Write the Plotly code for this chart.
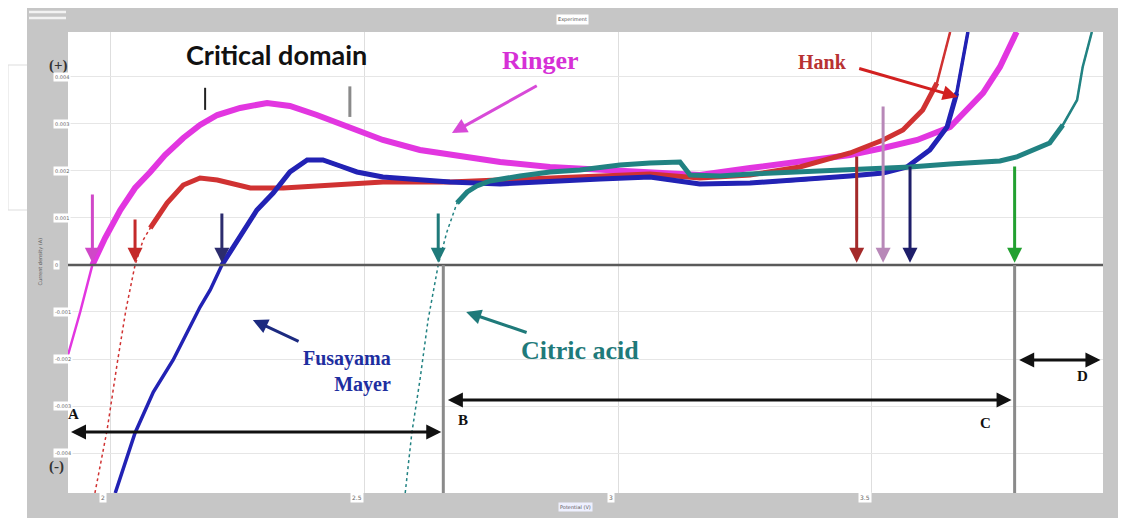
import plotly.graph_objects as go

# ---------------- data (x: potential units, y: current units, gridline = 1) -------------
ringer_x = [1.917, 1.941, 1.965, 1.990, 2.020, 2.049, 2.079, 2.108, 2.144, 2.177, 2.211, 2.256,
            2.309, 2.354, 2.407, 2.472, 2.537, 2.610, 2.669, 2.768, 2.866, 2.965, 3.063, 3.161,
            3.260, 3.358, 3.457, 3.522, 3.589, 3.654, 3.687, 3.719, 3.752, 3.785]
ringer_y = [-1.915, -1.0, 0.0, 0.574, 1.170, 1.638, 1.979, 2.340, 2.702, 2.979, 3.191, 3.340,
            3.447, 3.383, 3.191, 2.915, 2.660, 2.447, 2.340, 2.191, 2.085, 2.021, 1.957, 1.915,
            2.064, 2.191, 2.340, 2.489, 2.660, 2.936, 3.298, 3.660, 4.213, 4.957]

hank_x = [1.970, 1.994, 2.014, 2.031, 2.049, 2.065, 2.079, 2.112, 2.144, 2.177, 2.211, 2.276,
          2.341, 2.407, 2.472, 2.537, 2.669, 2.768, 2.866, 2.965, 3.063, 3.161, 3.260, 3.358,
          3.457, 3.522, 3.561, 3.600, 3.628, 3.654]
hank_y = [-4.851, -3.511, -2.085, -0.957, 0.0, 0.532, 0.787, 1.319, 1.702, 1.851, 1.809, 1.638,
          1.638, 1.681, 1.745, 1.766, 1.766, 1.809, 1.872, 1.915, 1.936, 1.851, 1.915, 2.085,
          2.383, 2.660, 2.872, 3.298, 3.872, 4.957]

fusayama_x = [2.010, 2.030, 2.049, 2.085, 2.124, 2.177, 2.197, 2.220, 2.242, 2.289, 2.321, 2.354,
              2.388, 2.419, 2.453, 2.486, 2.537, 2.669, 2.768, 2.866, 2.965, 3.063, 3.161, 3.260,
              3.358, 3.457, 3.522, 3.569, 3.614, 3.648, 3.667, 3.689]
fusayama_y = [-4.851, -4.191, -3.574, -2.702, -2.021, -0.894, -0.532, 0.0, 0.383, 1.170, 1.532,
              1.979, 2.234, 2.234, 2.106, 1.979, 1.872, 1.766, 1.723, 1.787, 1.830, 1.872, 1.723,
              1.745, 1.809, 1.894, 1.957, 2.085, 2.447, 2.936, 3.660, 4.957]

citric_x = [2.581, 2.594, 2.610, 2.626, 2.646, 2.663, 2.683, 2.703, 2.722, 2.748, 2.807, 2.866,
            2.925, 3.004, 3.063, 3.122, 3.142, 3.201, 3.260, 3.358, 3.457, 3.575, 3.654, 3.752,
            3.785, 3.850, 3.876, 3.904, 3.915, 3.933]
citric_y = [-4.851, -3.574, -2.447, -1.170, 0.0, 0.702, 1.319, 1.553, 1.681, 1.787, 1.894, 1.979,
            2.021, 2.128, 2.170, 2.191, 1.915, 1.894, 1.936, 1.979, 2.021, 2.085, 2.149, 2.213,
            2.298, 2.596, 2.979, 3.511, 4.213, 4.957]

# onset markers (x position, top of arrow)
onset_x = [1.965, 2.049, 2.220, 2.646, 3.470, 3.522, 3.575, 3.781]
onset_top = [1.532, 1.000, 1.128, 1.128, 2.340, 3.404, 2.128, 2.128]
onset_colors = ["#d048c8", "#c42a2a", "#2c2c6e", "#1f7a7a", "#a42a2a", "#b888b8", "#1e1e6a", "#22a030"]

boundary_x = [2.656, 3.781]               # B and C boundary lines
crit_x = [2.187, 2.472]                    # critical domain marks

x_ticks = [2.0, 2.5, 3.0, 3.5]
x_tick_text = ["2", "2.5", "3", "3.5"]
y_ticks = [4, 3, 2, 1, 0, -1, -2, -3, -4]
y_tick_text = ["0.004", "0.003", "0.002", "0.001", "0", "-0.001", "-0.002", "-0.003", "-0.004"]

# ---------------- figure ----------------
OFF = 8  # page body margin
W, H = 1135 - OFF, 518 - OFF
L, T = 68 - OFF, 32 - OFF
R = W - (1103 - OFF)
B = H - (493 - OFF)
pw, ph = W - L - R, H - T - B
def px(xp):  # paper x from reference pixel
    return (xp - OFF - L) / pw
def py(yp):  # paper y from reference pixel
    return (H - B - (yp - OFF)) / ph

fig = go.Figure()

def seg(xs, ys, lo, hi):
    sx, sy = [], []
    for a, b in zip(xs, ys):
        if lo <= a <= hi:
            sx.append(a); sy.append(b)
    return sx, sy

series = [
    ("Ringer", ringer_x, ringer_y, "#e236e0", (1.96, 3.80), 2.5, 6, "solid"),
    ("Hank", hank_x, hank_y, "#d03232", (2.07, 3.63), 1.5, 5, "dot"),
    ("Fusayama Mayer", fusayama_x, fusayama_y, "#2222b4", (2.20, 3.67), 3.5, 5, "solid"),
    ("Citric acid", citric_x, citric_y, "#218282", (2.68, 3.88), 1.5, 5, "dot"),
]
for name, xs, ys, c, thick, tw, kw, dash in series:
    fig.add_trace(go.Scatter(x=xs, y=ys, mode="lines", line=dict(color=c, width=tw, dash=dash),
                             showlegend=False, hoverinfo="skip"))
for name, xs, ys, c, thick, tw, kw, dash in series:
    sx, sy = seg(xs, ys, *thick)
    fig.add_trace(go.Scatter(x=sx, y=sy, mode="lines", line=dict(color=c, width=kw),
                             showlegend=False, hoverinfo="skip", name=name))
for name, xs, ys, c, thick, tw, kw, dash in series:
    sx, sy = seg(xs, ys, thick[1] - 0.03, 4.0)
    fig.add_trace(go.Scatter(x=sx, y=sy, mode="lines", line=dict(color=c, width=2.5),
                             showlegend=False, hoverinfo="skip"))

shapes = []
shapes.append(dict(type="rect", xref="paper", yref="paper", x0=px(8), x1=px(40), y0=py(210), y1=py(65),
                   line=dict(color="#dddddd", width=1), fillcolor="white", layer="below"))
shapes.append(dict(type="rect", xref="paper", yref="paper", x0=px(27), x1=px(1118), y0=py(530), y1=py(5),
                   line=dict(width=0), fillcolor="#c6c6c6", layer="below"))
shapes.append(dict(type="rect", xref="paper", yref="paper", x0=0, x1=1, y0=0, y1=1,
                   line=dict(width=0), fillcolor="white", layer="below"))
for yy in (12, 18):
    shapes.append(dict(type="line", xref="paper", yref="paper", x0=px(29), x1=px(66), y0=py(yy), y1=py(yy),
                       line=dict(color="#f2f2f2", width=2.5)))
shapes.append(dict(type="line", xref="paper", yref="y", x0=0, x1=1, y0=0, y1=0,
                   line=dict(color="#5a5a5a", width=2.5)))
for xv in boundary_x:
    shapes.append(dict(type="line", xref="x", yref="y", x0=xv, x1=xv, y0=0, y1=-4.851,
                       line=dict(color="#8a8a8a", width=3)))
shapes.append(dict(type="line", xref="x", yref="y", x0=crit_x[0], x1=crit_x[0], y0=3.30, y1=3.77,
                   line=dict(color="#222222", width=2)))
shapes.append(dict(type="line", xref="x", yref="y", x0=crit_x[1], x1=crit_x[1], y0=3.15, y1=3.80,
                   line=dict(color="#8a8a8a", width=3)))

ann = []
for xv, yt, c in zip(onset_x, onset_top, onset_colors):
    ann.append(dict(x=xv, y=0.05, ax=xv, ay=yt, xref="x", yref="y", axref="x", ayref="y",
                    text="", showarrow=True, arrowhead=2, arrowsize=1, arrowwidth=3, arrowcolor=c))
for x0, x1, yv in ((1.920, 2.652, -3.553), (2.662, 3.775, -2.872), (3.787, 3.950, -2.021)):
    ann.append(dict(x=x1, y=yv, ax=x0, ay=yv, xref="x", yref="y", axref="x", ayref="y", text="",
                    showarrow=True, arrowhead=2, startarrowhead=2, arrowside="end+start",
                    arrowsize=1, arrowwidth=3, arrowcolor="#111111"))
serif = "Liberation Serif"
for t, xv, yv in (("A", 1.928, -3.16), ("B", 2.695, -3.30), ("C", 3.724, -3.36), ("D", 3.915, -2.36)):
    ann.append(dict(x=xv, y=yv, xref="x", yref="y", text="<b>%s</b>" % t, showarrow=False,
                    font=dict(family=serif, size=15, color="#111111")))

ann.append(dict(x=2.327, y=4.47, xref="x", yref="y", text="<b>Critical domain</b>", showarrow=False,
                font=dict(family="Lato", size=27, color="#111111")))
ann.append(dict(x=2.848, y=4.36, xref="x", yref="y", text="<b>Ringer</b>", showarrow=False,
                font=dict(family=serif, size=26, color="#d630d6")))
ann.append(dict(x=2.673, y=2.809, ax=2.843, ay=3.83, xref="x", yref="y", axref="x", ayref="y", text="",
                showarrow=True, arrowhead=2, arrowsize=1, arrowwidth=3, arrowcolor="#d84ad8"))
ann.append(dict(x=3.402, y=4.32, xref="x", yref="y", text="<b>Hank</b>", showarrow=False,
                font=dict(family=serif, size=20, color="#b83232")))
ann.append(dict(x=3.669, y=3.574, ax=3.472, ay=4.19, xref="x", yref="y", axref="x", ayref="y", text="",
                showarrow=True, arrowhead=2, arrowsize=1, arrowwidth=3, arrowcolor="#d22020"))
ann.append(dict(x=2.467, y=-2.27, xref="x", yref="y", text="<b>Fusayama<br>Mayer</b>", showarrow=False,
                align="right", font=dict(family=serif, size=20, color="#1e2ea0")))
ann.append(dict(x=2.281, y=-1.17, ax=2.374, ay=-1.638, xref="x", yref="y", axref="x", ayref="y", text="",
                showarrow=True, arrowhead=2, arrowsize=1, arrowwidth=3, arrowcolor="#1c2a80"))
ann.append(dict(x=2.925, y=-1.81, xref="x", yref="y", text="<b>Citric acid</b>", showarrow=False,
                font=dict(family=serif, size=26, color="#1f7a7a")))
ann.append(dict(x=2.701, y=-1.0, ax=2.823, ay=-1.447, xref="x", yref="y", axref="x", ayref="y", text="",
                showarrow=True, arrowhead=2, arrowsize=1, arrowwidth=3, arrowcolor="#1f7a7a"))
ann.append(dict(x=px(47), y=py(55), xref="paper", yref="paper", text="<b>(+)</b>", showarrow=False,
                font=dict(family=serif, size=15, color="#333333")))
ann.append(dict(x=px(47), y=py(477), xref="paper", yref="paper", text="<b>(-)</b>", showarrow=False,
                font=dict(family=serif, size=15, color="#333333")))
for yv, t in zip(y_ticks, y_tick_text):
    ann.append(dict(x=px(53), y=yv, xref="paper", yref="y", text=t, showarrow=False,
                    font=dict(family="DejaVu Sans", size=5, color="#666666"), bgcolor="white", borderpad=1))
for xv, t in zip(x_ticks, x_tick_text):
    ann.append(dict(x=xv, y=py(503), xref="x", yref="paper", xshift=-7, text=t, showarrow=False,
                    font=dict(family="DejaVu Sans", size=6, color="#666666"), bgcolor="white", borderpad=1))
ann.append(dict(x=px(572), y=py(14), xref="paper", yref="paper", text="Experiment", showarrow=False,
                font=dict(family="DejaVu Sans", size=5, color="#555555"), bgcolor="white", borderpad=1))
ann.append(dict(x=px(575), y=py(512), xref="paper", yref="paper", text="Potential (V)", showarrow=False,
                font=dict(family="DejaVu Sans", size=5, color="#555555"), bgcolor="#eef0ff", borderpad=1))
ann.append(dict(x=px(34), y=py(262), xref="paper", yref="paper", text="Current density (A)", showarrow=False,
                textangle=-90, font=dict(family="DejaVu Sans", size=5, color="#555555")))

fig.update_layout(
    width=W, height=H, margin=dict(l=L, r=R, t=T, b=B),
    paper_bgcolor="white", plot_bgcolor="white",
    xaxis=dict(range=[1.917, 3.955], tick0=2, dtick=0.5, showgrid=True, gridcolor="#dedede", gridwidth=1.2,
               showticklabels=False, zeroline=False, showline=False, ticks=""),
    yaxis=dict(range=[-4.851, 4.957], tick0=0, dtick=1, showgrid=True, gridcolor="#e6e6e6", gridwidth=1.2,
               showticklabels=False, zeroline=False, showline=False, ticks=""),
    shapes=shapes, annotations=ann, showlegend=False,
)
fig.write_html("out.html")
